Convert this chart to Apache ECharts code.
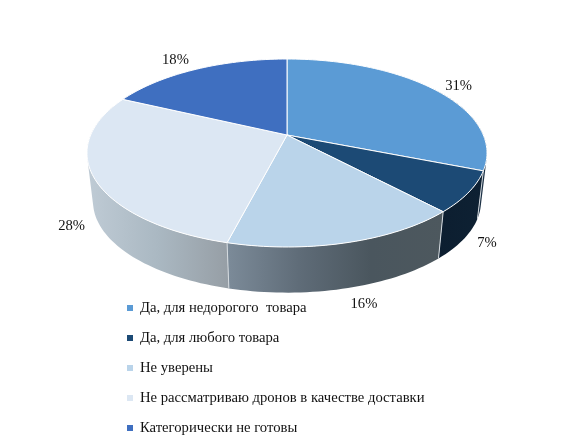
<!DOCTYPE html>
<html><head><meta charset="utf-8">
<style>html,body{margin:0;padding:0;background:#fff}#c{width:575px;height:446px}</style>
<script src="https://cdn.jsdelivr.net/npm/echarts@6/dist/echarts.min.js"></script>
</head><body><div id="c"></div>
<script>
const categories = ['Да, для недорогого  товара','Да, для любого товара','Не уверены','Не рассматриваю дронов в качестве доставки','Категорически не готовы'];
const values = [31, 7, 16, 28, 18];
const topColors = ['#5B9BD5','#1C4A75','#BAD4EA','#DCE7F3','#3F6FC0'];
const wallColors = [
  ['#2b4158','#1c3044'],
  ['#0c1e30','#0e2133'],
  ['#7C8B99','#5F6C78','#4A565E','#4D585E'],
  ['#BFCBD5','#AAB8C2','#969EA5'],
  ['#2b4a80','#2b4a80']
];
const labelOffsets = [[25,-3],[18,51],[17,61],[-22,49],[-21,-9]];

// perspective projection of the pie's disc
const cx = 287, cy = 135, A = 196.3, B = 90.55, K = 0.1915;
const bottomScale = 0.97, bottomY = 184;
function topPt(deg){
  const t = deg*Math.PI/180, u = Math.sin(t), v = Math.cos(t), w = 1+K*v;
  return [cx + A*u/w, cy - B*v/w];
}
function botPt(deg){
  const t = deg*Math.PI/180, u = Math.sin(t), v = Math.cos(t), w = 1+K*v;
  return [cx + bottomScale*A*u/w, bottomY - bottomScale*B*v/w];
}
const total = values.reduce((a,b)=>a+b,0);
function arc(fn,a,b){
  const n = Math.max(2,Math.ceil(Math.abs(b-a)/1.5)), pts=[];
  for(let i=0;i<=n;i++) pts.push(fn(a+(b-a)*i/n));
  return pts;
}
function wallPath(a,b){
  const T = arc(topPt,a,b), Q = arc(botPt,a,b);
  let d = '';
  for(let i=0;i<T.length-1;i++){
    let q = [T[i],T[i+1],Q[i+1],Q[i]];
    let area = 0;
    for(let j=0;j<4;j++){ const p=q[j], r=q[(j+1)%4]; area += p[0]*r[1]-r[0]*p[1]; }
    if(area<0) q = q.reverse();
    d += 'M'+q[0][0]+' '+q[0][1]+'L'+q[1][0]+' '+q[1][1]+'L'+q[2][0]+' '+q[2][1]+'L'+q[3][0]+' '+q[3][1]+'Z';
  }
  return d;
}
function makeRender(idx){
  return function(){
    let before = 0;
    for(let i=0;i<idx;i++) before += values[i];
    const a = before/total*360, b = (before+values[idx])/total*360;
    const children = [];
    const wa = Math.max(a,55), wb = Math.min(b,290);
    if(wb>wa){
      const stops = wallColors[idx].map((c,i,l)=>({offset:i/(l.length-1),color:c}));
      children.push({type:'path',shape:{pathData:wallPath(wa,wb)},
        style:{fill:new echarts.graphic.LinearGradient(0,0,1,0,stops)}});
    }
    if(a>=55 && a<=290){
      const p=topPt(a), q=botPt(a);
      children.push({type:'line',shape:{x1:p[0],y1:p[1],x2:q[0],y2:q[1]},style:{stroke:'#D5DBE0',lineWidth:1}});
    }
    children.push({type:'polygon',shape:{points:[[cx,cy]].concat(arc(topPt,a,b))},
      style:{fill:topColors[idx],stroke:'#fff',lineWidth:1,lineJoin:'round'}});
    const m = topPt((a+b)/2);
    children.push({type:'text',z2:50,style:{
      text:values[idx]+'%',x:m[0]+labelOffsets[idx][0],y:m[1]+labelOffsets[idx][1],
      align:'center',verticalAlign:'middle',font:'14.67px "Liberation Serif"',fill:'#111'}});
    return {type:'group',children};
  };
}
const chart = echarts.init(document.getElementById('c'),null,{renderer:'canvas'});
chart.setOption({
  animation:false,
  backgroundColor:'#fff',
  legend:{
    orient:'vertical',left:127,top:300,icon:'rect',itemWidth:6,itemHeight:6,itemGap:14,padding:0,
    selectedMode:false,data:categories,
    textStyle:{fontFamily:'"Liberation Serif"',fontSize:14.67,color:'#111',padding:[0,0,0,2],lineHeight:16}
  },
  series:categories.map((name,i)=>({
    type:'custom',name,coordinateSystem:'none',silent:true,
    itemStyle:{color:topColors[i]},
    data:[[values[i]]],renderItem:makeRender(i)
  }))
});
</script></body></html>
